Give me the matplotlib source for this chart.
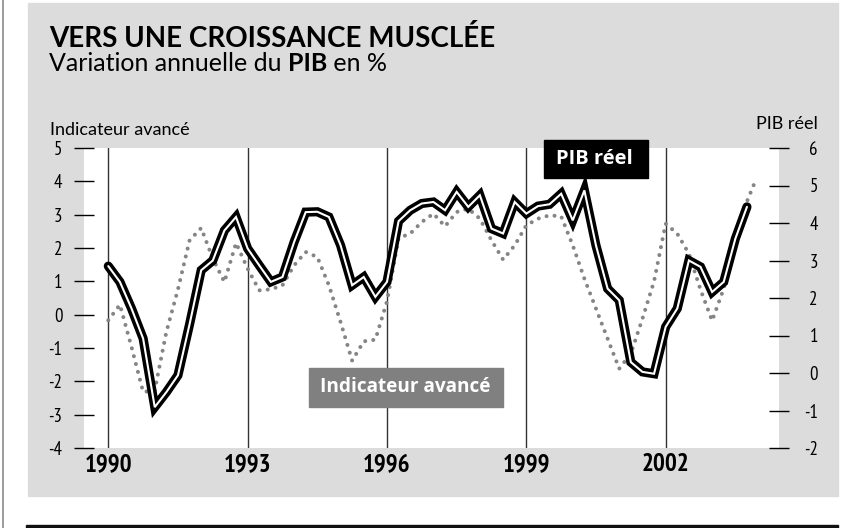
import matplotlib
matplotlib.use('Agg')
import matplotlib.pyplot as plt
from matplotlib.patches import Rectangle
from matplotlib.lines import Line2D

# PIB réel, variation annuelle en %, trimestriel à partir de 1990 T1 (axe de droite)
pib_trimestre = list(range(56))
pib_reel = [2.85, 2.43, 1.72, 0.92, -0.91, -0.51, -0.06, 1.3, 2.74, 3.0,
            3.8, 4.16, 3.32, 2.87, 2.43, 2.56, 3.49, 4.29, 4.3, 4.16,
            3.41, 2.34, 2.56, 2.03, 2.43, 4.05, 4.34, 4.52, 4.56, 4.34,
            4.83, 4.43, 4.74, 3.85, 3.72, 4.56, 4.25, 4.45, 4.5, 4.78,
            4.07, 4.87, 3.4, 2.25, 1.94, 0.29, 0.03, -0.02, 1.23, 1.72,
            3.0, 2.83, 2.16, 2.43, 3.58, 4.43]

# indicateur avancé, mois depuis janvier 1990 (axe de gauche)
ind_mois = list(range(0, 166, 3)) + [167]
indicateur = [-0.17, 0.3, -0.97, -2.32, -2.27, -0.52, 0.76, 2.23, 2.6, 1.68,
              0.98, 2.15, 1.38, 0.73, 0.76, 0.88, 1.48, 1.88, 1.73, 0.88,
              -0.22, -1.38, -0.8, -0.75, 0.4, 2.3, 2.43, 2.78, 3.03, 2.65,
              3.08, 3.18, 2.88, 2.23, 1.65, 2.08, 2.68, 2.88, 2.98, 2.95,
              2.08, 1.08, 0.18, -0.72, -1.62, -1.17, -0.12, 1.0, 2.73, 2.43,
              1.83, 0.75, -0.18, 0.78, 2.28, 3.4, 3.96]

annees = [1990, 1993, 1996, 1999, 2002]
ticks_gauche = list(range(-4, 6))
ticks_droite = list(range(-2, 7))

plt.rcParams['axes.unicode_minus'] = False
NARROW = ['PT Sans Narrow', 'DejaVu Sans']
TITRE = ['Lato', 'DejaVu Sans']
ETIQ = ['Open Sans', 'DejaVu Sans']

W, H = 859, 528
fig = plt.figure(figsize=(W / 100, H / 100), dpi=100)


def fx(x):
    return x / W


def fy(y):
    return 1 - y / H


# fond gris du cadre, filet à gauche, bandeau du bas
fig.patches.append(Rectangle((fx(28), fy(496)), 810 / W, 493 / H,
                             transform=fig.transFigure, color='#dcdcdc', zorder=-10))
fig.lines.append(Line2D([fx(3), fx(3)], [0, 1], transform=fig.transFigure,
                        color='#8a8a8a', lw=1.2))
fig.patches.append(Rectangle((fx(26), 0), 812 / W, 3 / H,
                             transform=fig.transFigure, color='#111111', zorder=-5))

ax = fig.add_axes([fx(84), 80 / H, 695 / W, 300 / H])
ax.set_facecolor('white')
ax2 = ax.twinx()
for a in (ax, ax2):
    for s in a.spines.values():
        s.set_visible(False)

x_ind = [1990 + m / 12 for m in ind_mois]
x_pib = [1990 + q / 4 for q in pib_trimestre]

ax.plot(x_ind, indicateur, color='#858585', lw=2.9,
        linestyle=(0, (0.01, 2.0)), dash_capstyle='round')
ax2.plot(x_pib, pib_reel, color='black', lw=6.6,
         solid_capstyle='round', solid_joinstyle='miter')
ax2.plot(x_pib, pib_reel, color='white', lw=1.5,
         solid_capstyle='round', solid_joinstyle='miter')

ax.set_xlim(1989.477, 2004.44)
ax.set_ylim(-4, 5)
ax2.set_ylim(-2, 6)

ax.set_xticks(annees)
ax.set_xticklabels([str(a) for a in annees], family=NARROW,
                   fontweight='bold', fontsize=18)
ax.tick_params(axis='x', length=0, pad=3.5)
ax.grid(axis='x', color='#333333', lw=1)
ax.set_axisbelow(True)

ax.set_yticks(ticks_gauche)
ax.set_yticklabels([str(t) for t in ticks_gauche], family=NARROW, fontsize=13.5)
ax.tick_params(axis='y', direction='inout', length=14, width=1, pad=8.5)

ax2.set_yticks(ticks_droite)
ax2.set_yticklabels([str(t) for t in ticks_droite], family=NARROW, fontsize=13.5)
ax2.tick_params(axis='y', direction='inout', length=15, width=1, pad=20.5)
for lab in ax2.get_yticklabels():
    lab.set_horizontalalignment('right')

# titres
fig.text(fx(49), fy(47), 'VERS UNE CROISSANCE MUSCLÉE', family=TITRE,
         fontweight='bold', fontsize=20, va='baseline')
fig.canvas.draw()
r = fig.canvas.get_renderer()
x = 49
for morceau, poids in [('Variation annuelle du ', 'normal'), ('PIB', 'bold'), (' en %', 'normal')]:
    t = fig.text(fx(x), fy(71), morceau, family=TITRE, fontweight=poids,
                 fontsize=18, va='baseline')
    x += t.get_window_extent(r).width

fig.text(fx(50), fy(135), 'Indicateur avancé', family=TITRE,
         fontsize=13, va='baseline')
fig.text(fx(818), fy(129), 'PIB réel', family=TITRE, fontsize=13,
         va='baseline', ha='right')

# étiquettes des courbes
fig.patches.append(Rectangle((fx(544), fy(178)), 104 / W, 38 / H,
                             transform=fig.transFigure, color='black', zorder=5))
fig.text(fx(594), fy(159), 'PIB réel', family=ETIQ, fontweight='bold',
         fontsize=14.5, color='white', ha='center', va='center', zorder=6)
fig.patches.append(Rectangle((fx(309), fy(407)), 194 / W, 39 / H,
                             transform=fig.transFigure, color='#808080', zorder=5))
fig.text(fx(405), fy(387.5), 'Indicateur avancé', family=ETIQ, fontweight='bold',
         fontsize=13.7, color='white', ha='center', va='center', zorder=6)

fig.savefig('out.png', dpi=100)
